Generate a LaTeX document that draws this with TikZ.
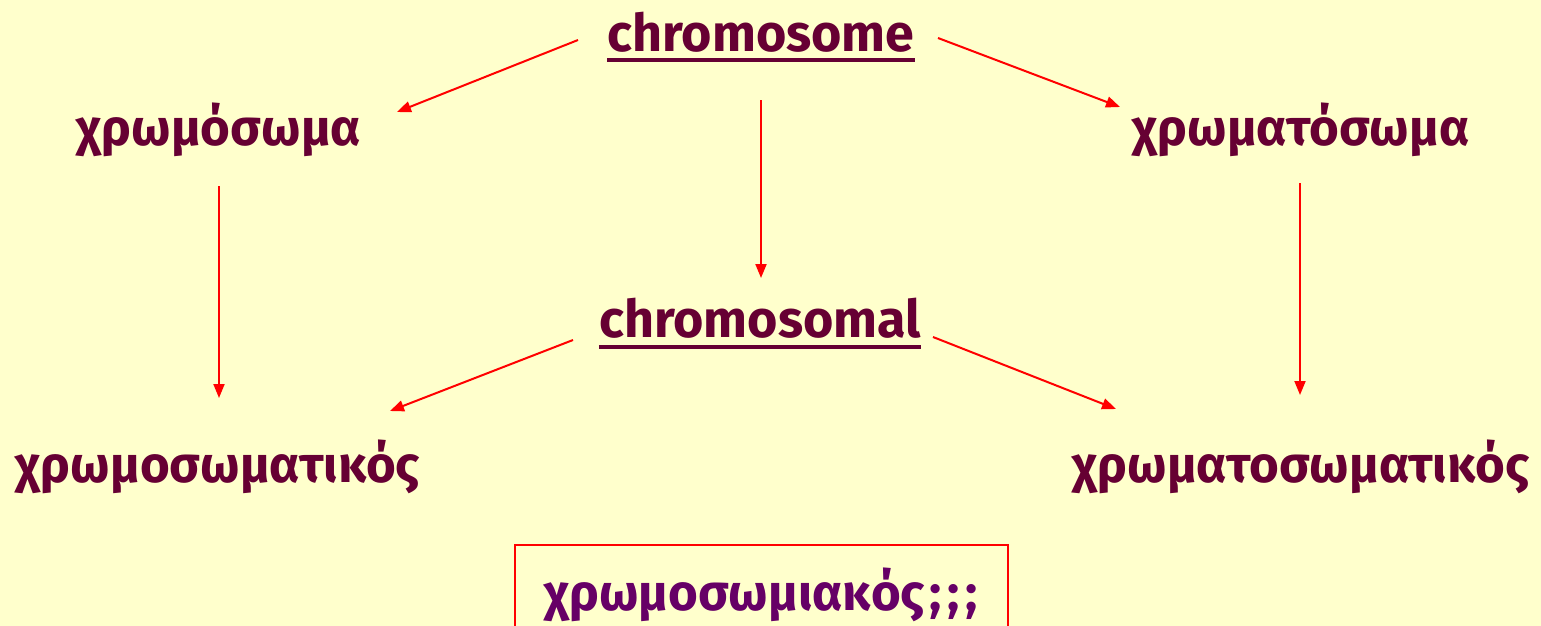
\documentclass[tikz,border=0pt]{standalone}
\usepackage{fontspec}
\setmainfont{Fira Sans}
\usetikzlibrary{arrows.meta,calc}
\definecolor{bgy}{HTML}{FFFFCC}
\definecolor{maroon}{HTML}{660033}
\definecolor{plum}{HTML}{660066}
\definecolor{arrred}{HTML}{FF0000}
\tikzset{
  lat/.style={inner sep=0pt, anchor=base, text=maroon, font=\fontsize{52}{60}\selectfont\bfseries},
  grk/.style={inner sep=0pt, anchor=base, text=maroon, font=\fontsize{51}{60}\selectfont\bfseries},
  ul/.style={draw=maroon, line width=3.5pt},
  arr/.style={draw=arrred, line width=2pt, -{Triangle[length=14pt,width=11pt]}},
}
\begin{document}
\begin{tikzpicture}[x=1pt,y=-1pt]
\useasboundingbox (0,0) rectangle (1541,626);
\fill[bgy] (0,0) rectangle (1541,626);
% nodes
\node[lat] (cs) at (761,52) {chromosome};
\node[lat] (cl) at (760,337) {chromosomal};
\node[grk] (g1) at (219,145) {χρωμόσωμα};
\node[grk] (g2) at (1301,145) {χρωματόσωμα};
\node[grk] (g3) at (218,482) {χρωμοσωματικός};
\node[grk] (g4) at (1301,482) {χρωματοσωματικός};
\node[draw=arrred, line width=2pt, minimum width=493pt, minimum height=120pt, anchor=north, inner sep=0pt] (bx) at (761.5,544) {};
\node[grk, text=plum] (g5) at (761,610) {χρωμοσωμιακός\kern4pt;\kern6pt;\kern6pt;};
% underlines
\draw[ul] ([yshift=-8pt]cs.base west) -- ([yshift=-8pt]cs.base east);
\draw[ul] ([yshift=-10pt]cl.base west) -- ([yshift=-10pt]cl.base east);
% arrow end points
\coordinate (a1s) at (578,40);  \coordinate (a1e) at (397,112);
\coordinate (a2s) at (938,38);  \coordinate (a2e) at (1120,107);
\coordinate (a3s) at (761,100); \coordinate (a3e) at (761,278);
\coordinate (a4s) at (219,186); \coordinate (a4e) at (219,398);
\coordinate (a5s) at (1300,183); \coordinate (a5e) at (1300,395);
\coordinate (a6s) at (573,340); \coordinate (a6e) at (390,411);
\coordinate (a7s) at (933,337); \coordinate (a7e) at (1116,409);
\draw[arr] (a1s) -- (a1e);
\draw[arr] (a2s) -- (a2e);
\draw[arr] (a3s) -- (a3e);
\draw[arr] (a4s) -- (a4e);
\draw[arr] (a5s) -- (a5e);
\draw[arr] (a6s) -- (a6e);
\draw[arr] (a7s) -- (a7e);
\end{tikzpicture}
\end{document}
